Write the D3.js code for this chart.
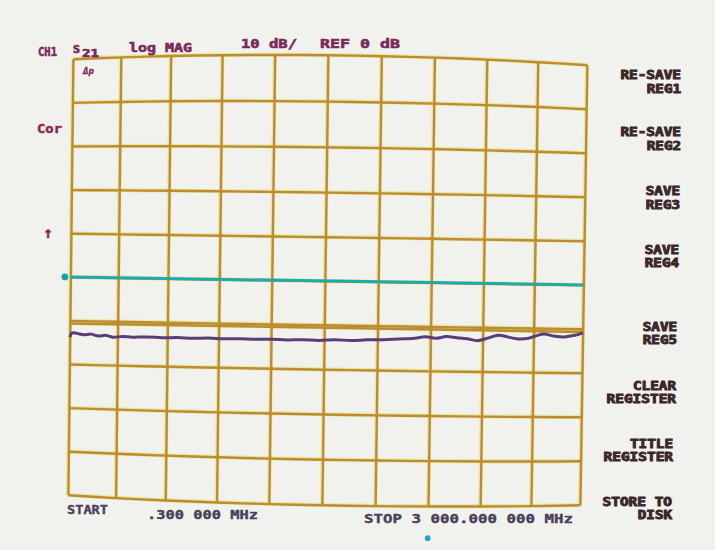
<!DOCTYPE html>
<html>
<meta charset="utf-8">
<head>
<style>
  body { margin: 0; background: #f1f2ee; }
  text { font-family: "DejaVu Sans Mono", monospace; font-weight: bold; }
</style>
</head>
<body>
<script src="https://d3js.org/d3.v7.min.js"></script>
<script>
// trace data
var freqMHz = [0.3, 15, 45, 90, 135, 180, 225, 270, 330, 390, 480, 570, 660, 750, 840, 930,
  1020, 1110, 1200, 1290, 1380, 1470, 1560, 1650, 1740, 1830, 1920, 2010, 2070, 2130, 2190,
  2250, 2310, 2370, 2430, 2490, 2550, 2610, 2670, 2700, 2760, 2820, 2880, 2940, 2970, 3000];
var s21dB = [-13.8, -12.8, -12.9, -13.2, -13.0, -13.4, -13.2, -13.6, -13.4, -13.5, -13.4, -13.5,
  -13.4, -13.5, -13.4, -13.5, -13.4, -13.5, -13.4, -13.5, -13.4, -13.5, -13.3, -13.4, -13.2,
  -13.1, -12.9, -12.7, -12.3, -12.6, -12.2, -12.4, -12.6, -13.0, -12.4, -11.7, -12.1, -12.5,
  -12.3, -11.9, -11.3, -11.7, -11.9, -11.5, -11.3, -10.9];
var refFreq = [0.3, 3000];
var refdB = [0, 0];
var memdB = [-10.6, -10.6];

var header = ["CH1", "S", "21", "log MAG", "10 dB/", "REF 0 dB"];
var softKeys = [["RE-SAVE", "REG1"], ["RE-SAVE", "REG2"], ["SAVE", "REG3"], ["SAVE", "REG4"],
  ["SAVE", "REG5"], ["CLEAR", "REGISTER"], ["TITLE", "REGISTER"], ["STORE TO", "DISK"]];
var footer = ["START", ".300 000 MHz", "STOP 3 000.000 000 MHz"];

var width = 715, height = 550;
var svg = d3.select("body").append("svg")
  .attr("width", width).attr("height", height);
svg.append("rect").attr("width", width).attr("height", height).attr("fill", "#f1f2ee");

// 10 divisions each way, 10 dB/div, ref 0 dB at centre
var x = d3.scaleLinear().domain([0.3, 3000]).range([0, 1]);
var y = d3.scaleLinear().domain([50, -50]).range([0, 1]);

// the screen was photographed a little skewed and bowed
var TL = [73, 59], TR = [587, 65], BL = [68, 495], BR = [580, 505];
function warp(u, v) {
  var tx = TL[0] + (TR[0] - TL[0]) * u, ty = TL[1] + (TR[1] - TL[1]) * u;
  var bx = BL[0] + (BR[0] - BL[0]) * u, by = BL[1] + (BR[1] - BL[1]) * u;
  var px = tx + (bx - tx) * v, py = ty + (by - ty) * v;
  var s = 1 - 2 * v;
  var bow = s > 0 ? -7 * s * s : 5 * s * s;
  py += 4 * u * (1 - u) * bow;
  px += 20 * (u - 0.5) * (1 - (2 * u - 1) * (2 * u - 1)) - 2 * Math.sin(Math.PI * u);
  return [px, py];
}

var line = d3.line();
var steps = d3.range(0, 1.0001, 0.05);
var divs = d3.range(0, 11).map(function (i) { return i / 10; });

var g = svg.append("g");
var gridPaths = [];
divs.forEach(function (u) { gridPaths.push(steps.map(function (v) { return warp(u, v); })); });
divs.forEach(function (v) { gridPaths.push(steps.map(function (u) { return warp(u, v); })); });
gridPaths.push(refFreq.map(function (f, i) { return warp(x(f), y(memdB[i])); }));

g.selectAll("path.halo").data(gridPaths).join("path").attr("class", "halo")
  .attr("d", line).attr("fill", "none")
  .attr("stroke", "#e6dc70").attr("stroke-width", 4.2).attr("opacity", 0.55);
g.selectAll("path.grid").data(gridPaths).join("path").attr("class", "grid")
  .attr("d", function (d) { return line(d.map(function (p) { return [p[0] + 0.4, p[1] + 0.3]; })); })
  .attr("fill", "none").attr("stroke", "#bc8c32").attr("stroke-width", 2.4);

// cyan reference trace
g.append("path")
  .attr("d", line(refFreq.map(function (f, i) { return warp(x(f), y(refdB[i])); })))
  .attr("fill", "none").attr("stroke", "#1ea9b0").attr("stroke-width", 3);
var m = warp(-0.012, y(0));
g.append("circle").attr("cx", m[0]).attr("cy", m[1]).attr("r", 3.4).attr("fill", "#17a3aa");

// measured S21 trace
g.append("path")
  .attr("d", d3.line().curve(d3.curveCatmullRom)(freqMHz.map(function (f, i) { return warp(x(f), y(s21dB[i])); })))
  .attr("fill", "none").attr("stroke", "#5a3c78").attr("stroke-width", 3)
  .attr("stroke-linejoin", "round");

var dot = warp(0.70, 1.07);
g.append("circle").attr("cx", dot[0]).attr("cy", dot[1]).attr("r", 2.8).attr("fill", "#1aa6c4");

// header
var hc = "#7a2a5a";
var hx = [38, 73, 82, 129, 241, 320], hy = [56, 53, 57, 52, 48, 48], hw = [19, 7, 17, 63, 56, 80];
var hs = [12, 10, 10, 12.5, 12.5, 12.5];
svg.selectAll("text.hdr").data(header).join("text").attr("class", "hdr")
  .attr("x", function (d, i) { return hx[i]; }).attr("y", function (d, i) { return hy[i]; })
  .attr("textLength", function (d, i) { return hw[i]; }).attr("lengthAdjust", "spacingAndGlyphs")
  .attr("font-size", function (d, i) { return hs[i]; })
  .attr("fill", hc).attr("stroke", hc).attr("stroke-width", 0.6)
  .text(function (d) { return d; });

svg.append("text").attr("x", 83).attr("y", 74).attr("font-size", 9).attr("font-style", "italic")
  .attr("fill", hc).attr("stroke", hc).attr("stroke-width", 0.3).text("Δp");
svg.append("text").attr("x", 37).attr("y", 133).attr("font-size", 12)
  .attr("textLength", 25).attr("lengthAdjust", "spacingAndGlyphs")
  .attr("fill", "#8e2455").attr("stroke", "#8e2455").attr("stroke-width", 0.5).text("Cor");
svg.append("text").attr("x", 48).attr("y", 238).attr("font-size", 16).attr("text-anchor", "middle")
  .attr("fill", "#8e2455").attr("stroke", "#8e2455").attr("stroke-width", 0.5).text("↑");

// softkeys, two lines each
var kRight = [681, 681, 680, 679, 677, 676, 673, 672];
var kBase = [[79, 93], [136, 150], [195, 209], [254, 267], [331, 344], [390, 403], [448, 461], [506, 519]];
softKeys.forEach(function (k, i) {
  var t = svg.append("text").attr("text-anchor", "end").attr("font-size", 11.5)
    .attr("fill", "#3b2729").attr("stroke", "#3b2729").attr("stroke-width", 0.9);
  k.forEach(function (s, j) {
    t.append("tspan").attr("x", kRight[i]).attr("y", kBase[i][j])
      .attr("textLength", s.length * 8.8 - 1).attr("lengthAdjust", "spacingAndGlyphs")
      .text(s);
  });
});

// footer
var fx = [67, 147, 364], fy = [514, 519, 523], fw = [41, 111, 209];
svg.selectAll("text.ftr").data(footer).join("text").attr("class", "ftr")
  .attr("x", function (d, i) { return fx[i]; }).attr("y", function (d, i) { return fy[i]; })
  .attr("textLength", function (d, i) { return fw[i]; }).attr("lengthAdjust", "spacingAndGlyphs")
  .attr("font-size", 13).attr("fill", "#4a3f58").attr("stroke", "#4a3f58").attr("stroke-width", 0.4)
  .text(function (d) { return d; });
</script>
</body>
</html>
